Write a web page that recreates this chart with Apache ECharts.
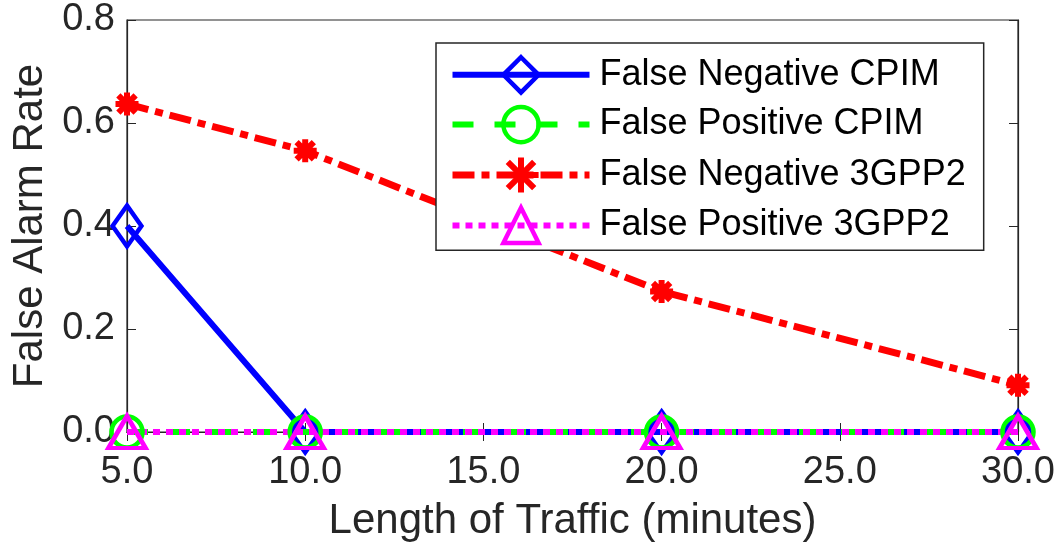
<!DOCTYPE html>
<html>
<head>
<meta charset="utf-8">
<script src="https://cdn.jsdelivr.net/npm/echarts@6/dist/echarts.min.js"></script>
<style>html,body{margin:0;padding:0;background:#fff}#c{width:1059px;height:550px}</style>
</head>
<body>
<div id="c"></div>
<script>
const xValues = [5, 10, 20, 30];
const fnCPIM = [0.4, 0, 0, 0];
const fpCPIM = [0, 0, 0, 0];
const fn3GPP2 = [0.637, 0.546, 0.273, 0.091];
const fp3GPP2 = [0, 0, 0, 0];
const seriesNames = ['False Negative CPIM', 'False Positive CPIM', 'False Negative 3GPP2', 'False Positive 3GPP2'];
const xAxisTitle = 'Length of Traffic (minutes)';
const yAxisTitle = 'False Alarm Rate';

const pairs = arr => xValues.map((x, i) => [x, arr[i]]);
const axisColor = '#262626';
const font = 'Liberation Sans, Arial, Helvetica, sans-serif';
const star = 'path://M0,-10 L0,10 M-10,0 L10,0 M-7.5,-7.5 L7.5,7.5 M-7.5,7.5 L7.5,-7.5';

const chart = echarts.init(document.getElementById('c'), null, {renderer: 'canvas'});
chart.setOption({
  animation: false,
  backgroundColor: '#fff',
  grid: {left: 127, right: 41, top: 20, bottom: 118, show: true, borderColor: axisColor, borderWidth: 1.2, backgroundColor: 'transparent'},
  legend: {
    left: 436, top: 43, orient: 'vertical',
    backgroundColor: '#fff', borderColor: axisColor, borderWidth: 1.5,
    padding: [12, 18, 5, 13],
    itemWidth: 137, itemHeight: 44, itemGap: 10,
    lineStyle: {width: 'inherit', type: 'inherit'},
    itemStyle: {borderWidth: 'inherit'},
    textStyle: {fontFamily: font, fontSize: 36, color: '#000', padding: [0, 0, 0, 5]},
    data: seriesNames
  },
  xAxis: [{
    type: 'value', min: 5, max: 30, interval: 5,
    name: xAxisTitle, nameLocation: 'middle', nameGap: 68,
    nameTextStyle: {fontFamily: font, fontSize: 42, color: axisColor},
    axisLine: {show: true, lineStyle: {color: axisColor, width: 1.2}},
    axisTick: {show: true, inside: true, length: 9, lineStyle: {color: axisColor}},
    axisLabel: {fontFamily: font, fontSize: 38, color: axisColor, margin: 22, formatter: v => v.toFixed(1)},
    splitLine: {show: false}
  }, {
    type: 'value', min: 5, max: 30, interval: 5, position: 'top',
    axisLine: {show: true, lineStyle: {color: axisColor, width: 1.2}},
    axisTick: {show: true, inside: true, length: 9, lineStyle: {color: axisColor}},
    axisLabel: {show: false}, splitLine: {show: false}
  }],
  yAxis: [{
    type: 'value', min: 0, max: 0.8, interval: 0.2,
    name: yAxisTitle, nameLocation: 'middle', nameGap: 76,
    nameTextStyle: {fontFamily: font, fontSize: 42, color: axisColor},
    axisLine: {show: true, lineStyle: {color: axisColor, width: 1.2}},
    axisTick: {show: true, inside: true, length: 9, lineStyle: {color: axisColor}},
    axisLabel: {fontFamily: font, fontSize: 38, color: axisColor, margin: 12, formatter: v => v.toFixed(1)},
    splitLine: {show: false}
  }, {
    type: 'value', min: 0, max: 0.8, interval: 0.2, position: 'right',
    axisLine: {show: true, lineStyle: {color: axisColor, width: 1.2}},
    axisTick: {show: true, inside: true, length: 9, lineStyle: {color: axisColor}},
    axisLabel: {show: false}, splitLine: {show: false}
  }],
  series: [
    {
      name: seriesNames[0], type: 'line', data: pairs(fnCPIM), clip: false,
      symbol: 'diamond', symbolSize: [29, 41],
      lineStyle: {color: '#0000ff', width: 6, type: 'solid'},
      itemStyle: {color: 'rgba(255,255,255,0)', borderColor: '#0000ff', borderWidth: 4.5}
    },
    {
      name: seriesNames[1], type: 'line', data: pairs(fpCPIM), clip: false,
      symbol: 'circle', symbolSize: 31,
      lineStyle: {color: '#00ff00', width: 6, type: [21, 21]},
      itemStyle: {color: 'rgba(255,255,255,0)', borderColor: '#00ff00', borderWidth: 4.5}
    },
    {
      name: seriesNames[2], type: 'line', data: pairs(fn3GPP2), clip: false,
      symbol: star, symbolSize: 23,
      lineStyle: {color: '#ff0000', width: 7, type: [22, 7, 8, 7]},
      itemStyle: {color: '#ff0000', borderColor: '#ff0000', borderWidth: 6}
    },
    {
      name: seriesNames[3], type: 'line', data: pairs(fp3GPP2), clip: false,
      symbol: 'triangle', symbolSize: [37, 32],
      lineStyle: {color: '#ff00ff', width: 6, type: [7, 6]},
      itemStyle: {color: 'rgba(255,255,255,0)', borderColor: '#ff00ff', borderWidth: 4.5}
    }
  ]
});
</script>
</body>
</html>
